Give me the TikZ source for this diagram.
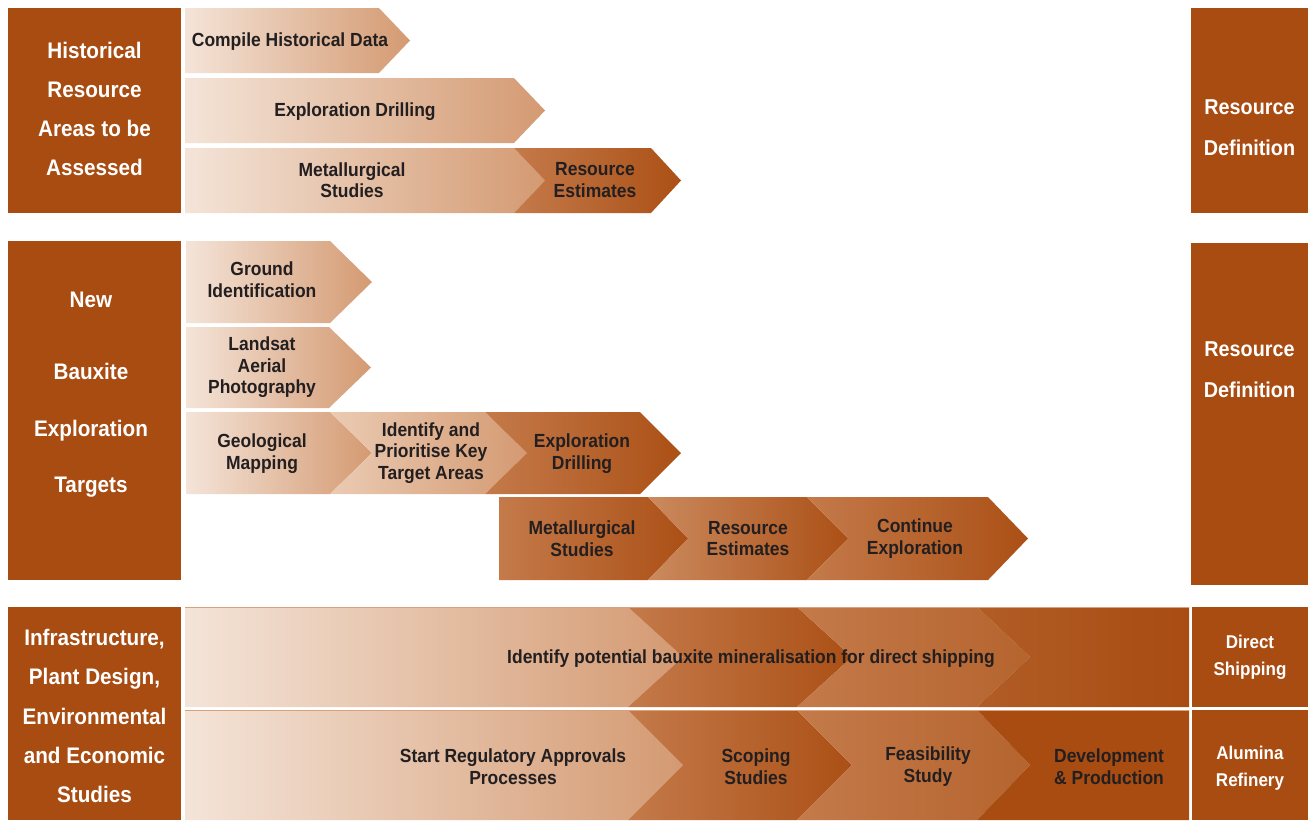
\documentclass[tikz,border=0pt]{standalone}
\usepackage{fontspec}
\setmainfont{Liberation Sans}[FakeStretch=0.92]
\definecolor{rust}{HTML}{A84C12}
\definecolor{ink}{HTML}{231F20}
\definecolor{paleL}{HTML}{F4E4D8}
\definecolor{paleR}{HTML}{D49A72}
\definecolor{midL}{HTML}{EBCBB3}
\definecolor{darkL}{HTML}{C47A4A}
\definecolor{darkR}{HTML}{AB5016}
\definecolor{warmL}{HTML}{CB8A5E}
\definecolor{softR}{HTML}{B5642E}
\definecolor{rim}{HTML}{D9A07C}
% chevron: left x, body end x, tip x, top y, bottom y, notch depth, fill style
\newcommand{\chevron}[7]{%
  \shade[#7] (#1,#4) -- (#2,#4) -- (#3,{(#4+#5)/2}) -- (#2,#5) -- (#1,#5)
    -- ({#1+#6},{(#4+#5)/2}) -- cycle;}
\begin{document}
\begin{tikzpicture}[x=1pt,y=-1pt,
  lbl/.style={font=\bfseries\fontsize{19}{21.5}\selectfont, text=ink, align=center, inner sep=0pt},
  side/.style={font=\bfseries\fontsize{22.5}{39.3}\selectfont, text=white, align=center, inner sep=0pt},
  goal/.style={font=\bfseries\fontsize{21.5}{41}\selectfont, text=white, align=center, inner sep=0pt},
  route/.style={font=\bfseries\fontsize{18.5}{27}\selectfont, text=white, align=center, inner sep=0pt},
  pale/.style={left color=paleL, right color=paleR},
  paler/.style={left color=midL, right color=paleR},
  dark/.style={left color=darkL, right color=darkR},
  warm/.style={left color=warmL, right color=darkR},
  soft/.style={left color=darkL, right color=softR},
  deep/.style={left color=softR!70!rust, right color=rust},
  flat/.style={left color=rust, right color=rust},
  box/.style={fill=rust}]
\useasboundingbox (0,0) rectangle (1313,820);

% ---------- side panels ----------
\fill[box] (8,8) rectangle (181,213);
\fill[box] (8,241) rectangle (181,580);
\fill[box] (8,607) rectangle (181,820);
\fill[box] (1191,8) rectangle (1308,213);
\fill[box] (1191,243) rectangle (1308,585);
\fill[box] (1192,607) rectangle (1308,707);
\fill[box] (1192,710) rectangle (1308,820);

\node[side] (hist) at (94.5,109) {Historical\\Resource\\Areas to be\\Assessed};
\node[side, font=\bfseries\fontsize{22.5}{56.5}\selectfont] (newb) at (91,395)
  {New\\[15.5pt]Bauxite\\Exploration\\Targets};
\node[side] (infra) at (94.5,716) {Infrastructure,\\Plant Design,\\Environmental\\and Economic\\Studies};
\node[goal] (def1) at (1249.5,128) {Resource\\Definition};
\node[goal] (def2) at (1249.5,370) {Resource\\Definition};
\node[route] (ship) at (1250,657.5) {Direct\\Shipping};
\node[route] (refin) at (1250,768.5) {Alumina\\Refinery};

% ---------- historical resource areas ----------
\chevron{185}{379}{410}{8}{73}{0}{pale}
\chevron{185}{514}{545}{78}{143}{0}{pale}
\chevron{185}{514}{545}{148}{213}{0}{pale}
\chevron{514}{651}{681}{148}{213}{31}{dark}
\node[lbl] (compile) at (290,41.5) {Compile Historical Data};
\node[lbl] (drill1) at (355,112) {Exploration Drilling};
\node[lbl] (met1) at (352,180) {Metallurgical\\Studies};
\node[lbl] (est1) at (595,180) {Resource\\Estimates};

% ---------- new bauxite exploration targets ----------
\chevron{186}{330}{372}{241}{323}{0}{pale}
\chevron{186}{329}{371}{327}{408}{0}{pale}
\chevron{186}{330}{372}{412}{494}{0}{pale}
\chevron{330}{485}{527}{412}{494}{42}{paler}
\chevron{485}{640}{681}{412}{494}{42}{dark}
\chevron{499}{648}{688}{497}{580}{0}{dark}
\chevron{648}{807}{848}{497}{580}{40}{warm}
\chevron{807}{988}{1028}{497}{580}{41}{dark}
\node[lbl] (ground) at (262,279.5) {Ground\\Identification};
\node[lbl] (landsat) at (262,367.5) {Landsat\\Aerial\\Photography};
\node[lbl] (geo) at (262,453.5) {Geological\\Mapping};
\node[lbl] (prior) at (431,453) {Identify and\\Prioritise Key\\Target Areas};
\node[lbl] (drill2) at (582,453.5) {Exploration\\Drilling};
\node[lbl] (met2) at (582,538.5) {Metallurgical\\Studies};
\node[lbl] (est2) at (748,538.5) {Resource\\Estimates};
\node[lbl] (cont) at (915,538.5) {Continue\\Exploration};

% ---------- infrastructure and studies ----------
\chevron{185}{628}{683}{607}{707}{0}{pale}
\chevron{628}{797}{852}{607}{707}{55}{dark}
\chevron{797}{977}{1030}{607}{707}{55}{soft}
\chevron{977}{1189}{1189}{607}{707}{53}{deep}
\chevron{185}{628}{683}{710}{820}{0}{pale}
\chevron{628}{797}{852}{710}{820}{55}{dark}
\chevron{797}{977}{1030}{710}{820}{55}{soft}
\chevron{977}{1189}{1189}{710}{820}{53}{flat}
\draw[rim, line width=1pt] (185,607.5) -- (1189,607.5);
\draw[rim, line width=1pt] (185,710.5) -- (1189,710.5);
\node[lbl] (direct) at (751,658.5) {Identify potential bauxite mineralisation for direct shipping};
\node[lbl] (reg) at (513,766.5) {Start Regulatory Approvals\\Processes};
\node[lbl] (scope) at (756,766.5) {Scoping\\Studies};
\node[lbl] (feas) at (928,766.5) {Feasibility\\Study};
\node[lbl] (dev) at (1109,766.5) {Development\\\& Production};
\end{tikzpicture}
\end{document}
